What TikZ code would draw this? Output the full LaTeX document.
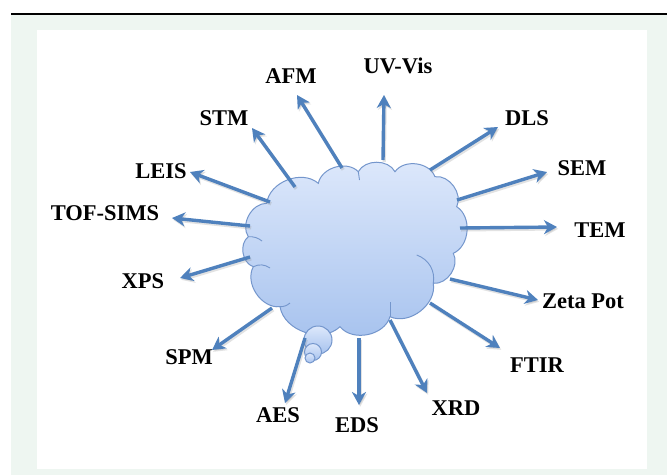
\documentclass[tikz,border=0pt]{standalone}
\usepackage{fontspec}
\setmainfont{Liberation Serif}
\usetikzlibrary{arrows.meta}
\definecolor{mint}{HTML}{EEF6F1}
\definecolor{arrowblue}{HTML}{4F81BD}
\definecolor{cloudline}{HTML}{7496CC}
\definecolor{cloudtop}{HTML}{DDE8FB}
\definecolor{cloudbot}{HTML}{A6C2EE}
\tikzset{
  x=1pt, y=-1pt,
  lbl/.style={font=\fontsize{22.5}{27}\selectfont\bfseries, text=black, inner sep=0pt},
  arr/.style={draw=arrowblue, line width=3.4pt,
    -{Stealth[length=13pt, width=14pt, inset=4pt]}},
  arrshadow/.style={draw=black!45, opacity=0.25, line width=3.4pt,
    -{Stealth[length=13pt, width=14pt, inset=4pt]}},
  cloudfill/.style={top color=cloudtop, bottom color=cloudbot, draw=cloudline, line width=1pt},
  puff/.style={bend left=62},
  inner/.style={draw=cloudline, line width=0.9pt}
}
\begin{document}
\begin{tikzpicture}
% page frame
\useasboundingbox (0,0) rectangle (667,475);
\fill[white] (0,0) rectangle (667,475);
\fill[mint] (11,15) rectangle (667,475);
\fill[white] (37,30) rectangle (647,469);
\draw[line width=1.4pt] (11,14) -- (667,14);

% cloud outline, built from puffs between indent points
\path[cloudfill]
  (266.7,203.3) to[puff] (318.3,183.3) to[puff] (358.3,171.7)
  to[puff] (395,171.7) to[puff] (435,176.7) to[puff] (456.7,206.7)
  to[puff] (453.3,253.3) to[puff] (433.3,283.3) to[puff] (390,316.7)
  to[puff] (340,326.7) to[puff] (280,306.7) to[puff] (253.3,266.7)
  to[puff] (248.3,236.7) to[puff] cycle;
% small inner strokes of the cloud
\draw[inner] (416.7,255) to[bend left=40] (433.3,283.3);
\draw[inner] (390,302) -- (390,316.7);
\draw[inner] (253.3,266.7) to[bend left=30] (270,268);
\draw[inner] (248.3,236.7) to[bend left=20] (262,241);
\draw[inner] (358.3,171.7) -- (359.5,180);
\draw[inner] (280,306.7) to[bend right=20] (290,303);

% thought bubbles
\path[cloudfill] (318,340) circle (14);
\path[cloudfill] (313,352) circle (8.5);
\path[cloudfill] (310,358) circle (5);

% arrow end points: tails on the cloud, tips at the labels
\coordinate (uv-s) at (383,160);  \coordinate (uv-e) at (384,95);
\coordinate (afm-s) at (342,168); \coordinate (afm-e) at (297,95);
\coordinate (stm-s) at (295,187); \coordinate (stm-e) at (252,128);
\coordinate (dls-s) at (430,170); \coordinate (dls-e) at (498,127);
\coordinate (sem-s) at (457,200); \coordinate (sem-e) at (547,172);
\coordinate (tem-s) at (460,228); \coordinate (tem-e) at (557,227);
\coordinate (zeta-s) at (450,279); \coordinate (zeta-e) at (538,300);
\coordinate (ftir-s) at (430,303); \coordinate (ftir-e) at (500,348);
\coordinate (xrd-s) at (390,320); \coordinate (xrd-e) at (427,393);
\coordinate (eds-s) at (359,338); \coordinate (eds-e) at (359,405);
\coordinate (aes-s) at (305,338); \coordinate (aes-e) at (285,403);
\coordinate (spm-s) at (272,308); \coordinate (spm-e) at (212,350);
\coordinate (xps-s) at (250,257); \coordinate (xps-e) at (180,278);
\coordinate (tof-s) at (250,226); \coordinate (tof-e) at (172,218);
\coordinate (leis-s) at (270,202); \coordinate (leis-e) at (190,172);

% technique labels
\node[lbl] (uv) at (398,66) {UV-Vis};
\node[lbl] (afm) at (291,76) {AFM};
\node[lbl] (stm) at (224,118) {STM};
\node[lbl] (dls) at (527,118) {DLS};
\node[lbl] (sem) at (582,168) {SEM};
\node[lbl] (tem) at (600,230) {TEM};
\node[lbl] (zeta) at (583,301) {Zeta Pot};
\node[lbl] (ftir) at (537,365) {FTIR};
\node[lbl] (xrd) at (456,408) {XRD};
\node[lbl] (eds) at (357,425) {EDS};
\node[lbl] (aes) at (278,415) {AES};
\node[lbl] (spm) at (189,357) {SPM};
\node[lbl] (xps) at (143,281) {XPS};
\node[lbl] (tof) at (105,213) {TOF-SIMS};
\node[lbl] (leis) at (161,171) {LEIS};

% arrows with a faint shadow
\foreach \n in {uv,afm,stm,dls,sem,tem,zeta,ftir,xrd,eds,aes,spm,xps,tof,leis}{
  \draw[arrshadow] ([shift={(1.2,1.8)}]\n-s) -- ([shift={(1.2,1.8)}]\n-e);
  \draw[arr] (\n-s) -- (\n-e);
}
\end{tikzpicture}
\end{document}
